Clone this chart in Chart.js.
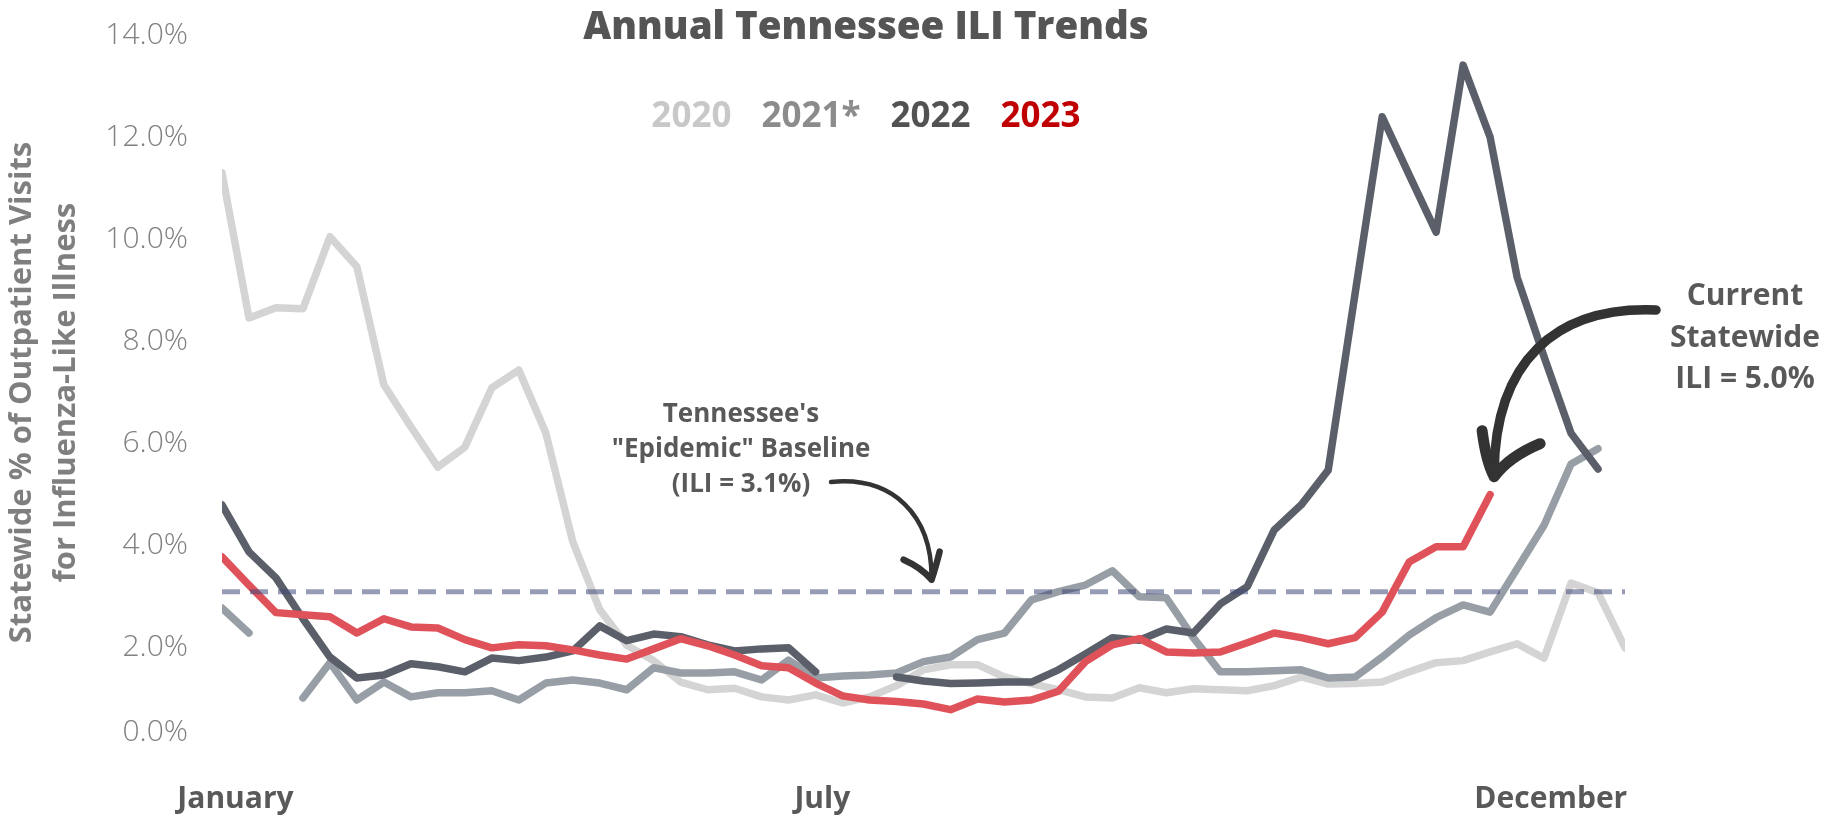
<!DOCTYPE html>
<html>
<head>
<meta charset="utf-8">
<title>Annual Tennessee ILI Trends</title>
<script src="https://cdn.jsdelivr.net/npm/chart.js@4.4.1/dist/chart.umd.min.js"></script>
<style>
  html, body { margin: 0; padding: 0; background: #fff; }
  #iliChart { display: block; }
</style>
</head>
<body>
<canvas id="iliChart" width="1833" height="817"></canvas>
<script>
// Week of the year (x axis)
const weeks = [1, 2, 3, 4, 5, 6, 7, 8, 9, 10, 11, 12, 13, 14, 15, 16, 17, 18, 19, 20,
  21, 22, 23, 24, 25, 26, 27, 28, 29, 30, 31, 32, 33, 34, 35, 36, 37, 38, 39, 40,
  41, 42, 43, 44, 45, 46, 47, 48, 49, 50, 51, 52, 53];

// Statewide % of outpatient visits for influenza-like illness, by week
const ili2020 = [11.3, 8.46, 8.66, 8.64, 10.05, 9.46, 7.15, 6.33, 5.54, 5.93, 7.09, 7.44, 6.21,
  4.08, 2.75, 2.05, 1.75, 1.33, 1.18, 1.21, 1.04, 0.98, 1.08, 0.92, 1.04, 1.26, 1.57, 1.67,
  1.67, 1.43, 1.3, 1.18, 1.04, 1.02, 1.22, 1.12, 1.2, 1.18, 1.16, 1.26, 1.43, 1.29, 1.3, 1.33,
  1.53, 1.71, 1.75, 1.92, 2.08, 1.8, 3.27, 3.08, 2.0];
const ili2021 = [2.78, 2.29, null, 1.02, 1.71, 0.98, 1.33, 1.04, 1.12, 1.12, 1.16, 0.98, 1.31,
  1.37, 1.31, 1.18, 1.61, 1.51, 1.51, 1.53, 1.37, 1.76, 1.41, 1.45, 1.47, 1.51, 1.73, 1.82,
  2.16, 2.29, 2.94, 3.1, 3.23, 3.51, 3.0, 2.98, 2.2, 1.53, 1.53, 1.55, 1.57, 1.41, 1.43, 1.82,
  2.25, 2.59, 2.84, 2.7, 3.55, 4.4, 5.6, 5.9, null];
const ili2022 = [4.8, 3.88, 3.37, 2.57, 1.82, 1.41, 1.47, 1.69, 1.63, 1.53, 1.8, 1.75, 1.82,
  1.94, 2.43, 2.14, 2.27, 2.22, 2.06, 1.94, 1.98, 2.0, 1.53, null, null, 1.43, 1.35, 1.3, 1.31,
  1.33, 1.33, 1.57, 1.88, 2.2, 2.15, 2.37, 2.29, 2.86, 3.2, 4.31, 4.8, 5.48, 8.95, 12.4, 11.26,
  10.14, 13.41, 12.0, 9.26, 7.7, 6.2, 5.5, null];
const ili2023 = [3.78, 3.23, 2.69, 2.65, 2.61, 2.29, 2.57, 2.41, 2.39, 2.16, 2.0, 2.06, 2.04,
  1.96, 1.86, 1.78, 1.98, 2.18, 2.04, 1.86, 1.65, 1.61, 1.31, 1.06, 0.98, 0.95, 0.9, 0.79, 1.0,
  0.94, 0.98, 1.15, 1.73, 2.06, 2.18, 1.92, 1.9, 1.92, 2.1, 2.29, 2.2, 2.08, 2.2, 2.7, 3.68,
  3.98, 3.98, 5.0];

// "Epidemic" baseline
const baselineIli = 3.1;

// Legend entries and series colours
const seriesNames = ['2020', '2021*', '2022', '2023'];
const lineColors = ['#d4d4d4', '#989ea6', '#5a5f69', '#e0525a'];
const legendColors = ['#c8c8c8', '#8c8c8c', '#525252', '#c00000'];

// Axis ticks
const yTickValues = [0, 2, 4, 6, 8, 10, 12, 14];
const monthLabels = ['January', 'July', 'December'];
const monthWeeks = [1.5, 23.25, 50.25];

const FONT = '"Open Sans", "Noto Sans", sans-serif';

function toPoints(values) {
  return values.map((v, i) => ({ x: weeks[i], y: v }));
}

function seriesLine(idx, values, order) {
  return {
    label: seriesNames[idx],
    data: toPoints(values),
    borderColor: lineColors[idx],
    borderWidth: 7.5,
    borderCapStyle: 'round',
    borderJoinStyle: 'round',
    pointRadius: 0,
    tension: 0,
    fill: false,
    spanGaps: false,
    order: order
  };
}

// Title, legend text and the two hand-drawn callouts
const annotations = {
  id: 'annotations',
  afterDraw(chart) {
    const ctx = chart.ctx;
    const xs = chart.scales.x;
    const ys = chart.scales.y;
    ctx.save();

    // title
    ctx.fillStyle = '#555555';
    ctx.font = `800 38.5px ${FONT}`;
    ctx.textAlign = 'center';
    ctx.textBaseline = 'alphabetic';
    ctx.fillText('Annual Tennessee ILI Trends', 866, 39);

    // legend (coloured year labels)
    ctx.font = `bold 35px ${FONT}`;
    ctx.textAlign = 'left';
    const gap = 30;
    const widths = seriesNames.map(n => ctx.measureText(n).width);
    let lx = 866 - (widths.reduce((a, b) => a + b, 0) + gap * (widths.length - 1)) / 2;
    seriesNames.forEach((name, i) => {
      ctx.fillStyle = legendColors[i];
      ctx.fillText(name, lx, 127);
      lx += widths[i] + gap;
    });

    // baseline callout
    ctx.fillStyle = '#595959';
    ctx.textAlign = 'center';
    ctx.font = `bold 26px ${FONT}`;
    ctx.fillText("Tennessee's", 741, 422);
    ctx.fillText('"Epidemic" Baseline', 741, 457);
    ctx.fillText(`(ILI = ${baselineIli.toFixed(1)}%)`, 741, 492);

    ctx.strokeStyle = '#333333';
    ctx.lineCap = 'round';
    ctx.lineJoin = 'round';

    const bTipX = xs.getPixelForValue(27.3);
    const bTipY = ys.getPixelForValue(baselineIli) - 12;
    ctx.lineWidth = 4.5;
    ctx.beginPath();
    ctx.moveTo(831, 482);
    ctx.bezierCurveTo(893, 476, bTipX, 515, bTipX, bTipY - 2);
    ctx.stroke();
    ctx.lineWidth = 6.5;
    ctx.beginPath();
    ctx.moveTo(bTipX - 28, bTipY - 20);
    ctx.quadraticCurveTo(bTipX - 10, bTipY - 12, bTipX, bTipY);
    ctx.moveTo(bTipX + 8, bTipY - 28);
    ctx.quadraticCurveTo(bTipX + 4, bTipY - 12, bTipX, bTipY);
    ctx.stroke();

    // current value callout, pointing at the latest 2023 week
    const lastIdx = ili2023.length - 1;
    const current = ili2023[lastIdx];
    ctx.fillStyle = '#595959';
    ctx.font = `bold 30px ${FONT}`;
    ctx.fillText('Current', 1745, 305);
    ctx.fillText('Statewide', 1745, 347);
    ctx.fillText(`ILI = ${current.toFixed(1)}%`, 1745, 388);

    const cTipX = xs.getPixelForValue(weeks[lastIdx]) + 4;
    const cTipY = ys.getPixelForValue(current) - 18;
    ctx.lineWidth = 9.5;
    ctx.beginPath();
    ctx.moveTo(1656, 310);
    ctx.bezierCurveTo(1555, 306, cTipX + 1, 362, cTipX, cTipY - 4);
    ctx.stroke();
    ctx.lineWidth = 11;
    ctx.beginPath();
    ctx.moveTo(cTipX - 12, cTipY - 46);
    ctx.quadraticCurveTo(cTipX - 8, cTipY - 15, cTipX, cTipY);
    ctx.moveTo(cTipX + 46, cTipY - 33);
    ctx.quadraticCurveTo(cTipX + 15, cTipY - 20, cTipX, cTipY);
    ctx.stroke();

    ctx.restore();
  }
};

const ctx = document.getElementById('iliChart').getContext('2d');
const iliChart = new Chart(ctx, {
  type: 'line',
  data: {
    datasets: [
      {
        label: 'Baseline',
        data: weeks.map(w => ({ x: w, y: baselineIli })),
        borderColor: 'rgba(66, 74, 122, 0.55)',
        borderWidth: 5,
        borderDash: [18, 10],
        pointRadius: 0,
        fill: false,
        order: 0
      },
      seriesLine(3, ili2023, 1),
      seriesLine(2, ili2022, 2),
      seriesLine(1, ili2021, 3),
      seriesLine(0, ili2020, 4)
    ]
  },
  options: {
    responsive: false,
    animation: false,
    devicePixelRatio: 1,
    layout: { padding: { top: 35, right: 208, bottom: 0, left: 0 } },
    plugins: {
      legend: { display: false },
      title: { display: false },
      tooltip: { enabled: false }
    },
    scales: {
      x: {
        type: 'linear',
        min: 1,
        max: 53,
        grid: { display: false, drawTicks: false },
        border: { display: false },
        afterBuildTicks: scale => {
          scale.ticks = monthWeeks.map(value => ({ value }));
        },
        afterFit: scale => {
          scale.height = 67;
          scale.paddingLeft = 0;
          scale.paddingRight = 0;
        },
        ticks: {
          autoSkip: false,
          maxRotation: 0,
          padding: 31,
          color: '#595959',
          font: { family: FONT, size: 30, weight: 'bold' },
          callback: (value, index) => monthLabels[index]
        }
      },
      y: {
        min: 0,
        max: 14,
        grid: { display: false, drawTicks: false },
        border: { display: false },
        afterBuildTicks: scale => {
          scale.ticks = yTickValues.map(value => ({ value }));
        },
        // fixed axis width; the labels hang over the plot edges freely
        afterFit: scale => {
          scale.width = 222;
          scale.paddingTop = 0;
          scale.paddingBottom = 0;
        },
        ticks: {
          padding: 34,
          color: '#808080',
          font: { family: FONT, size: 30, weight: 300 },
          // bottom label sits a little above the zero line
          callback: value => value === 0 ? ['0.0%', ''] : value.toFixed(1) + '%'
        },
        title: {
          display: true,
          text: ['Statewide % of Outpatient Visits', 'for Influenza-Like Illness'],
          color: '#7f7f7f',
          padding: { top: 0, bottom: 0 },
          font: { family: FONT, size: 31, weight: 'bold', lineHeight: 1.42 }
        }
      }
    }
  },
  plugins: [annotations]
});
</script>
</body>
</html>
